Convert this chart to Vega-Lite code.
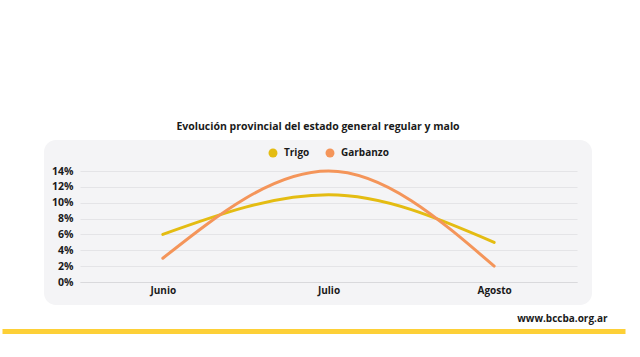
{
  "$schema": "https://vega.github.io/schema/vega-lite/v6.json",
  "width": 548,
  "height": 165,
  "autosize": {"type": "none"},
  "padding": {"left": 44, "top": 140, "right": 48, "bottom": 52},
  "background": "#ffffff",
  "title": {
    "text": "Evolución provincial del estado general regular y malo",
    "font": "Open Sans",
    "fontSize": 10.5,
    "fontWeight": "bold",
    "color": "#1a1a1a",
    "anchor": "middle",
    "offset": 8
  },
  "config": {
    "view": {"fill": "#f4f4f6", "stroke": null, "cornerRadius": 12},
    "font": "Open Sans"
  },
  "data": {
    "values": [
      {"mes": "Junio", "serie": "Trigo", "valor": 6},
      {"mes": "Julio", "serie": "Trigo", "valor": 11},
      {"mes": "Agosto", "serie": "Trigo", "valor": 5},
      {"mes": "Junio", "serie": "Garbanzo", "valor": 3},
      {"mes": "Julio", "serie": "Garbanzo", "valor": 14},
      {"mes": "Agosto", "serie": "Garbanzo", "valor": 2}
    ]
  },
  "resolve": {"scale": {"x": "independent"}, "axis": {"x": "independent"}},
  "layer": [
    {
      "mark": {"type": "line", "interpolate": "monotone", "strokeWidth": 3, "strokeCap": "round"},
      "encoding": {
        "x": {
          "field": "mes",
          "type": "ordinal",
          "sort": ["Junio", "Julio", "Agosto"],
          "scale": {"type": "point", "domain": ["Junio", "Julio", "Agosto"], "range": [36, 533], "padding": 0.5},
          "axis": {
            "title": null,
            "orient": "bottom",
            "offset": -23,
            "ticks": false,
            "grid": false,
            "domain": true,
            "domainColor": "#d9d9dc",
            "domainWidth": 1,
            "labelAngle": 0,
            "labelPadding": 3,
            "labelFont": "Open Sans",
            "labelFontSize": 10,
            "labelFontWeight": "bold",
            "labelColor": "#1a1a1a"
          }
        },
        "y": {
          "field": "valor",
          "type": "quantitative",
          "scale": {"domain": [0, 14], "range": [142, 31], "nice": false, "zero": true},
          "axis": {
            "title": null,
            "offset": -30,
            "values": [0, 2, 4, 6, 8, 10, 12, 14],
            "labelExpr": "datum.value + '%'",
            "ticks": false,
            "domain": false,
            "grid": true,
            "gridColor": "#e4e4e7",
            "gridWidth": 1,
            "labelPadding": 1,
            "labelFont": "Open Sans",
            "labelFontSize": 10.5,
            "labelFontWeight": "bold",
            "labelColor": "#1a1a1a"
          }
        },
        "color": {
          "field": "serie",
          "type": "nominal",
          "scale": {"domain": ["Trigo", "Garbanzo"], "range": ["#e4bc12", "#f4955a"]},
          "legend": {
            "title": null,
            "orient": "none",
            "direction": "horizontal",
            "legendX": 224,
            "legendY": 8,
            "padding": 0,
            "symbolType": "circle",
            "symbolSize": 80,
            "labelOffset": 6,
            "columnPadding": 15,
            "labelFont": "Open Sans",
            "labelFontSize": 10,
            "labelFontWeight": "bold",
            "labelColor": "#1a1a1a",
            "encode": {
              "symbols": {
                "update": {
                  "fill": {"scale": "color", "field": "value"},
                  "strokeWidth": {"value": 0}
                }
              }
            }
          }
        }
      }
    },
    {
      "mark": {"type": "point", "opacity": 0},
      "encoding": {
        "x": {
          "field": "mes",
          "type": "ordinal",
          "sort": ["Junio", "Julio", "Agosto"],
          "scale": {"type": "point", "domain": ["Junio", "Julio", "Agosto"], "range": [-42, 581], "padding": 0.5},
          "axis": {
            "title": "www.bccba.org.ar",
            "orient": "bottom",
            "offset": 26,
            "labels": false,
            "ticks": false,
            "grid": false,
            "domain": true,
            "domainColor": "#fdd037",
            "domainWidth": 5,
            "titleX": 563,
            "titleY": -13,
            "titleAlign": "right",
            "titleBaseline": "middle",
            "titleFont": "Open Sans",
            "titleFontSize": 10,
            "titleFontWeight": "bold",
            "titleColor": "#1a1a1a"
          }
        }
      }
    }
  ]
}
